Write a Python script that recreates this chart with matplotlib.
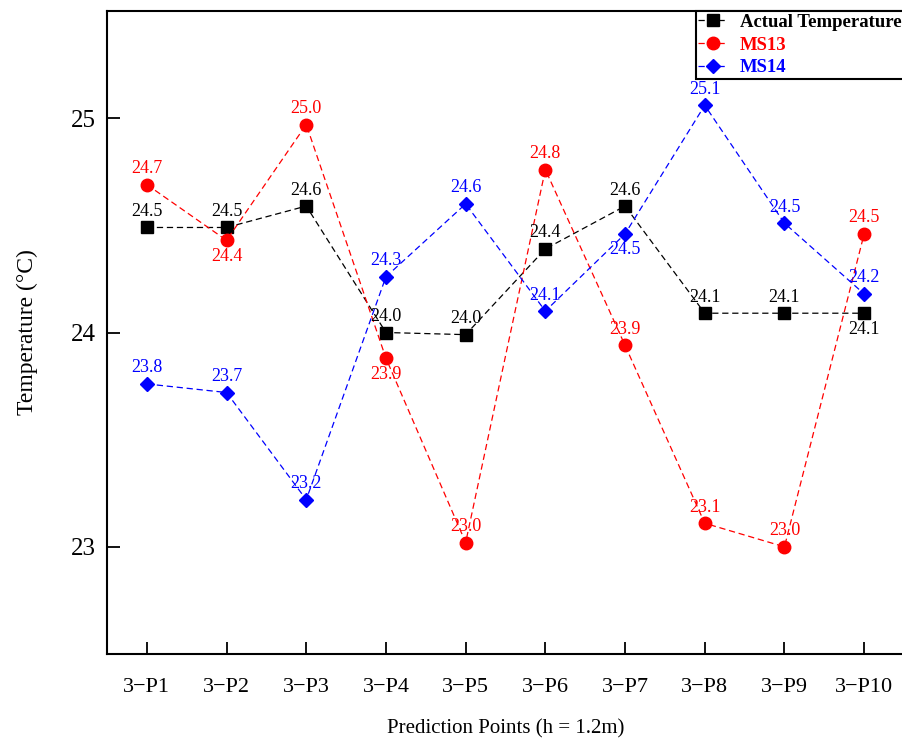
import matplotlib
matplotlib.use("Agg")
import matplotlib.pyplot as plt
import numpy as np

plt.rcParams['font.family'] = ['Liberation Serif', 'DejaVu Serif']

# Data
points = ["3\u2212P%d" % i for i in range(1, 11)]
actual = np.array([24.49, 24.49, 24.59, 24.00, 23.99, 24.39, 24.59, 24.09, 24.09, 24.09])
ms13 = np.array([24.69, 24.43, 24.97, 23.88, 23.02, 24.76, 23.94, 23.11, 23.00, 24.46])
ms14 = np.array([23.76, 23.72, 23.22, 24.26, 24.60, 24.10, 24.46, 25.06, 24.51, 24.18])

# where each value label goes: +1 above the marker, -1 below
pos_actual = [1, 1, 1, 1, 1, 1, 1, 1, 1, -1]
pos_ms13 = [1, -1, 1, -1, 1, 1, 1, 1, 1, 1]
pos_ms14 = [1, 1, 1, 1, 1, 1, -1, 1, 1, 1]

x = np.arange(1, 11)

fig = plt.figure(figsize=(9.02, 7.42), dpi=100)
ax = fig.add_axes([107 / 902, 1 - 654 / 742, 797 / 902, 643 / 742])

series = [
    ("Actual Temperature", actual, "black", "s", 8.5, pos_actual),
    ("MS13", ms13, "#ff0000", "o", 9, pos_ms13),
    ("MS14", ms14, "#0000ff", "D", 7.5, pos_ms14),
]

for name, vals, col, mk, ms, pos in series:
    ax.plot(x, vals, linestyle=(0, (5, 3)), linewidth=0.9, color=col,
            marker=mk, markersize=ms, markerfacecolor=col, markeredgecolor=col,
            label=name)
    for xi, v, p in zip(x, vals, pos):
        ax.annotate("%.1f" % v, (xi, v), xytext=(0, 11.5 * p), textcoords="offset points",
                    ha="center", va="center", color=col, fontsize=13)

ax.set_xlim(0.5, 10.5)
ax.set_ylim(22.5, 25.5)
ax.set_xticks(x)
ax.set_xticklabels(points, fontsize=16)
ax.set_yticks([23, 24, 25])
ax.tick_params(axis="y", labelsize=18, pad=8)
ax.tick_params(axis="x", pad=17)
ax.tick_params(direction="in", length=9, width=1.3)
for s in ax.spines.values():
    s.set_linewidth(1.5)

ax.set_xlabel("Prediction Points (h = 1.2m)", fontsize=15, labelpad=16)
ax.set_ylabel("Temperature (\u00b0C)", fontsize=17, labelpad=24)

leg = ax.legend(loc="upper right", bbox_to_anchor=(1, 1), borderaxespad=0,
                fancybox=False, edgecolor="black", framealpha=1,
                prop={"weight": "bold", "size": 13.5},
                handlelength=1.6, handletextpad=0.6, labelspacing=0.3,
                borderpad=0.15)
leg.get_frame().set_linewidth(1.5)
for t, (_, _, col, _, _, _) in zip(leg.get_texts(), series):
    t.set_color(col)

fig.savefig("out.png", dpi=100)
